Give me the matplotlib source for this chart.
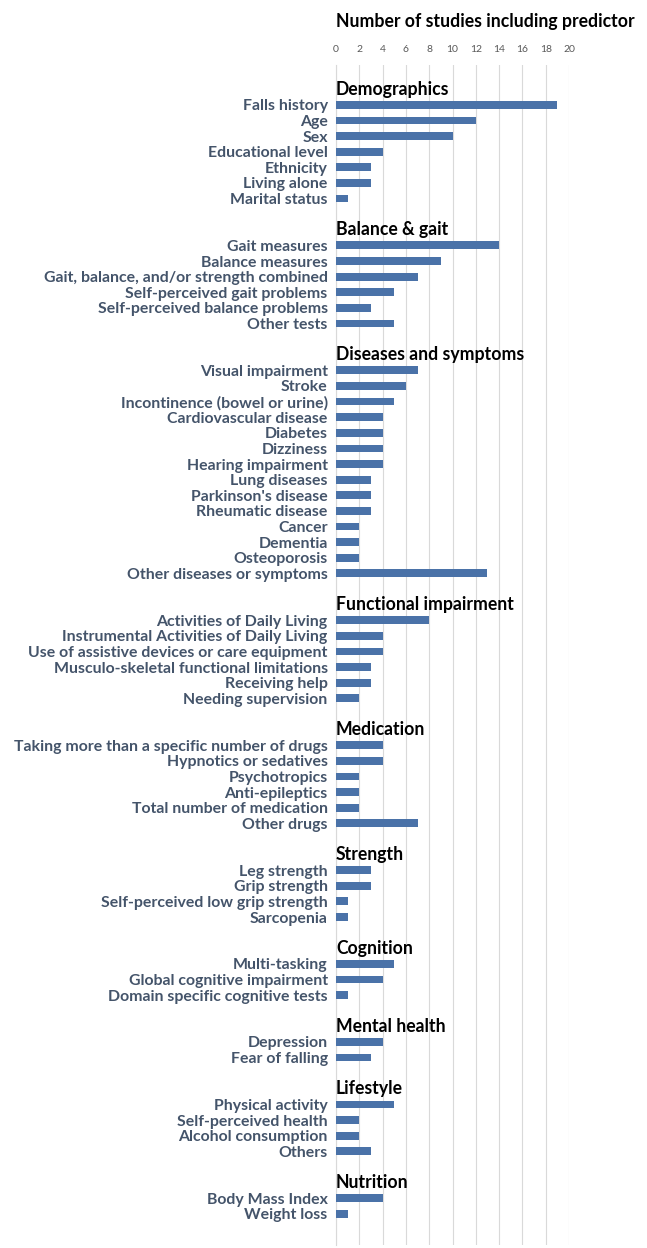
import numpy as np
import matplotlib
matplotlib.use("Agg")
import matplotlib.pyplot as plt

plt.rcParams['font.family'] = ['Lato', 'DejaVu Sans']

groups = ["Demographics", "Balance & gait", "Diseases and symptoms", "Functional impairment",
          "Medication", "Strength", "Cognition", "Mental health", "Lifestyle", "Nutrition"]

demographics = ["Falls history", "Age", "Sex", "Educational level", "Ethnicity", "Living alone", "Marital status"]
demographics_n = [19, 12, 10, 4, 3, 3, 1]

balance = ["Gait measures", "Balance measures", "Gait, balance, and/or strength combined",
           "Self-perceived gait problems", "Self-perceived balance problems", "Other tests"]
balance_n = [14, 9, 7, 5, 3, 5]

diseases = ["Visual impairment", "Stroke", "Incontinence (bowel or urine)", "Cardiovascular disease",
            "Diabetes", "Dizziness", "Hearing impairment", "Lung diseases", "Parkinson's disease",
            "Rheumatic disease", "Cancer", "Dementia", "Osteoporosis", "Other diseases or symptoms"]
diseases_n = [7, 6, 5, 4, 4, 4, 4, 3, 3, 3, 2, 2, 2, 13]

functional = ["Activities of Daily Living", "Instrumental Activities of Daily Living",
              "Use of assistive devices or care equipment", "Musculo-skeletal functional limitations",
              "Receiving help", "Needing supervision"]
functional_n = [8, 4, 4, 3, 3, 2]

medication = ["Taking more than a specific number of drugs", "Hypnotics or sedatives", "Psychotropics",
              "Anti-epileptics", "Total number of medication", "Other drugs"]
medication_n = [4, 4, 2, 2, 2, 7]

strength = ["Leg strength", "Grip strength", "Self-perceived low grip strength", "Sarcopenia"]
strength_n = [3, 3, 1, 1]

cognition = ["Multi-tasking", "Global cognitive impairment", "Domain specific cognitive tests"]
cognition_n = [5, 4, 1]

mental = ["Depression", "Fear of falling"]
mental_n = [4, 3]

lifestyle = ["Physical activity", "Self-perceived health", "Alcohol consumption", "Others"]
lifestyle_n = [5, 2, 2, 3]

nutrition = ["Body Mass Index", "Weight loss"]
nutrition_n = [4, 1]

items = [demographics, balance, diseases, functional, medication, strength, cognition, mental, lifestyle, nutrition]
counts = [demographics_n, balance_n, diseases_n, functional_n, medication_n, strength_n,
          cognition_n, mental_n, lifestyle_n, nutrition_n]

# row positions: header, items, blank line
header_pos = []
ypos, labels, vals = [], [], []
r = 0
for g, names, ns in zip(groups, items, counts):
    header_pos.append(r)
    r += 1
    for nm, v in zip(names, ns):
        ypos.append(r)
        labels.append(nm)
        vals.append(v)
        r += 1
    r += 1
last_row = r - 2

fig = plt.figure(figsize=(6.47, 12.48), dpi=100)
ax = fig.add_axes([336 / 647, 3 / 1248, 233 / 647, 1180 / 1248])

ax.barh(ypos, vals, height=0.5, color='#4a72a8', zorder=3)

for g, p in zip(groups, header_pos):
    ax.text(0, p, g, ha='left', va='center', fontsize=12.7, fontweight='bold', color='black', zorder=4)

ax.set_xlim(0, 20)
ax.set_ylim(last_row + 2.0, -1.55)
ax.set_xticks(np.arange(0, 21, 2))
ax.xaxis.tick_top()
ax.tick_params(axis='x', length=0, labelsize=7.5, labelcolor='#595959', pad=8)
ax.set_yticks(ypos)
ax.set_yticklabels(labels, fontsize=11.4, fontweight='bold', color='#44546a')
ax.tick_params(axis='y', length=0, pad=6)
ax.grid(axis='x', color='#d9d9d9', linewidth=0.8, zorder=0)
for s in ['top', 'right', 'bottom']:
    ax.spines[s].set_visible(False)
ax.spines['left'].set_color('#d9d9d9')
ax.spines['left'].set_linewidth(0.8)

fig.text(485 / 647, 1 - 22 / 1248, "Number of studies including predictor", ha='center', va='center',
         fontsize=12.7, fontweight='bold', color='black')

fig.savefig("out.png", dpi=100)
